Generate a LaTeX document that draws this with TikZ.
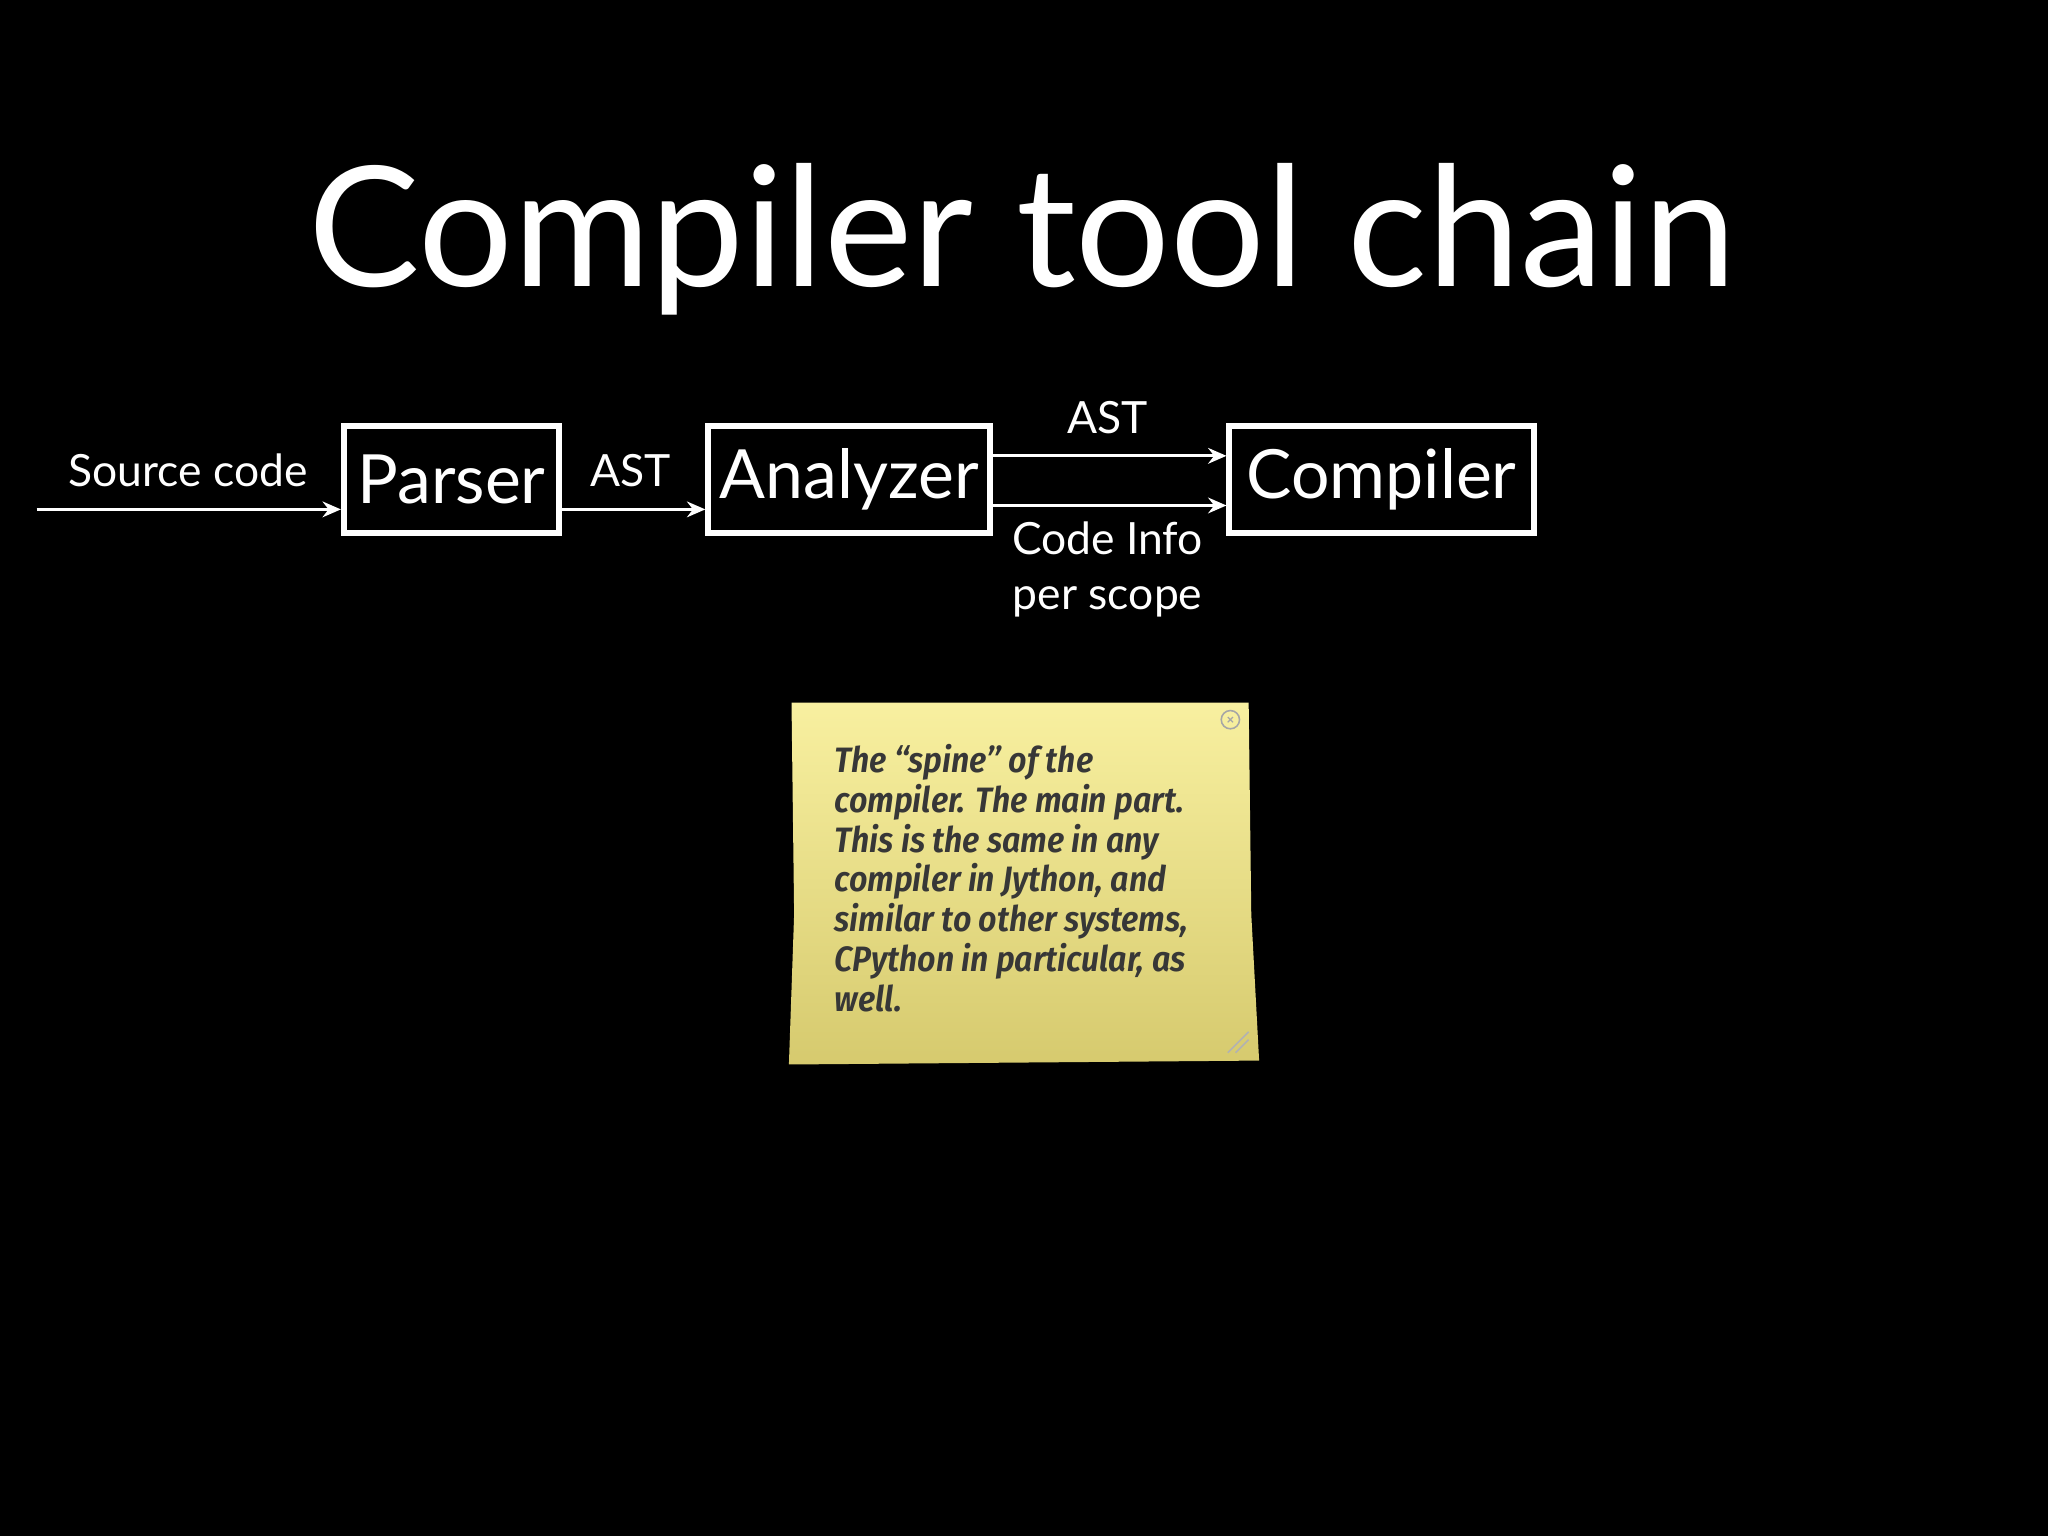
\documentclass[tikz,border=0pt]{standalone}
\usepackage{fontspec}
\setmainfont{Lato}
\newfontfamily\notefont{Fira Sans Condensed}[UprightFont=* SemiBold, ItalicFont=* SemiBold Italic]
\usetikzlibrary{arrows.meta}
\begin{document}
\begin{tikzpicture}[x=0.5pt,y=-0.5pt,
  box/.style={draw=white,line width=2.2pt,inner sep=0pt,anchor=north west,text=white,font=\fontsize{26}{30}\selectfont},
  arr/.style={white,line width=1.2pt,-{Stealth[length=7pt,width=6pt]}},
  lbl/.style={text=white,font=\fontsize{17}{21}\selectfont,align=center}]
\fill[black] (0,0) rectangle (1568,1176);
\useasboundingbox (0,0) rectangle (1568,1176);
\node[text=white,font=\fontsize{64}{70}\selectfont] (title) at (783,183) {Compiler tool chain};
\node[box,minimum width=82.5pt,minimum height=41pt] (p) at (261,324) {};
\node[text=white,font=\fontsize{26}{30}\selectfont] at (p.center) {Parser};
\node[box,minimum width=108pt,minimum height=41pt] (a) at (540,324) {};
\node[text=white,font=\fontsize{26}{30}\selectfont] at (a.center) {Analyzer};
\node[box,minimum width=116.5pt,minimum height=41pt] (c) at (939,324) {};
\node[text=white,font=\fontsize{26}{30}\selectfont] at (c.center) {Compiler};
\coordinate (s) at (28,390);
\draw[arr] (s) -- (s -| p.west);
\draw[arr] (p.east |- 0,390) -- (a.west |- 0,390);
\draw[arr] (a.east |- 0,349) -- (c.west |- 0,349);
\draw[arr] (a.east |- 0,387) -- (c.west |- 0,387);
\node[lbl] (l1) at (144,360) {Source code};
\node[lbl] (l2) at (483,360) {AST};
\node[lbl] (l3) at (848,320) {AST};
\node[lbl] (l4) at (848,436) {Code Info\\per scope};
\shade[top color={rgb,255:red,248;green,240;blue,160},bottom color={rgb,255:red,214;green,202;blue,110}]
  (606,538) -- (956,538) -- (958,700) -- (964,812) -- (604,815) -- (608,700) -- cycle;
\node[anchor=north west,text={rgb,255:red,55;green,55;blue,55},align=left,
  font=\notefont\itshape\fontsize{13.5}{15.2}\selectfont] (note) at (632,563)
{The “spine” of the\\compiler. The main part.\\This is the same in any\\compiler in Jython, and\\similar to other systems,\\CPython in particular, as\\well.};
\draw[gray!70,line width=0.6pt] (942,551) circle (3.5pt);
\draw[gray!70,line width=0.5pt] (940,549)--(944,553) (944,549)--(940,553);
\draw[gray!60,line width=0.6pt] (940,806)--(956,790) (946,806)--(956,796);
\end{tikzpicture}
\end{document}
